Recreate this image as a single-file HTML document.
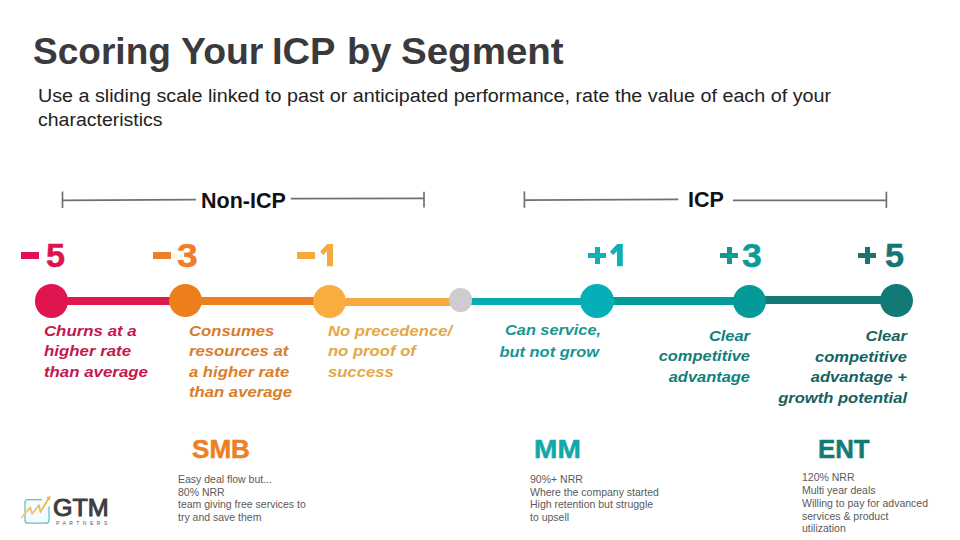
<!DOCTYPE html>
<html><head><meta charset="utf-8">
<style>
html,body{margin:0;padding:0;background:#fff;}
body{width:960px;height:540px;position:relative;overflow:hidden;font-family:"Liberation Sans",sans-serif;}
.a{position:absolute;white-space:nowrap;line-height:1;}
.tt{top:32.7px;font-size:37.5px;font-weight:bold;color:#3a3a3d;}
.sub{left:38px;font-size:18.8px;color:#222;transform-origin:1px 0;}
.brk{font-size:21.5px;font-weight:bold;color:#111;}
.num{font-size:33.2px;font-weight:bold;-webkit-text-stroke:0.5px currentColor;transform-origin:0 0;}
.bar{position:absolute;}
.dot{position:absolute;border-radius:50%;}
.ln{position:absolute;height:7.5px;}
.desc{font-size:15.3px;font-weight:bold;font-style:italic;line-height:20.6px;}
.seg{font-size:25.3px;font-weight:bold;-webkit-text-stroke:0.5px currentColor;transform-origin:0 0;}
.small{font-size:10.1px;line-height:12.6px;color:#5a5a5a;transform:scaleX(1.04);transform-origin:0 0;}
</style></head>
<body>
<div id="t1" class="a tt" style="left:32.93px;transform:scaleX(0.9879);transform-origin:0 0">Scoring</div>
<div id="t2" class="a tt" style="left:180.97px;transform:scaleX(0.9971);transform-origin:0 0">Your</div>
<div id="t3" class="a tt" style="left:272.25px;transform:scaleX(1.0154);transform-origin:0 0">ICP</div>
<div id="t4" class="a tt" style="left:346.89px;transform:scaleX(1.0174);transform-origin:0 0">by</div>
<div id="t5" class="a tt" style="left:400.83px;transform:scaleX(1.0272);transform-origin:0 0">Segment</div>
<div id="sub1" class="a sub" style="top:86.9px;transform:scaleX(1.0507)">Use a sliding scale linked to past or anticipated performance, rate the value of each of your</div>
<div id="sub2" class="a sub" style="top:111.1px;transform:scaleX(1.038)">characteristics</div>

<svg class="a" style="left:0;top:0" width="960" height="540">
 <g stroke="#707070" stroke-width="1.7" fill="none">
  <line x1="62.5" y1="200.3" x2="196" y2="199.6"/>
  <line x1="290.8" y1="198.6" x2="424" y2="198.3"/>
  <line x1="62.5" y1="191.5" x2="62.5" y2="208"/>
  <line x1="424" y1="191.7" x2="424" y2="207.5"/>
  <line x1="524.4" y1="200.1" x2="678.3" y2="199.4"/>
  <line x1="733" y1="200.4" x2="886.4" y2="200.4"/>
  <line x1="524.4" y1="191.4" x2="524.4" y2="207.8"/>
  <line x1="886.4" y1="191.7" x2="886.4" y2="208"/>
 </g>
</svg>
<div id="nonicp" class="a brk" style="left:201px;top:191px">Non-ICP</div>
<div id="icp" class="a brk" style="left:688px;top:189.7px">ICP</div>

<!-- numbers -->
<div class="bar" style="left:21.1px;top:252.2px;width:18.1px;height:6.5px;background:#df1250"></div>
<div id="n5m" class="a num" style="left:46.2px;top:239.3px;transform:scaleX(1.03);color:#df1250">5</div>
<div class="bar" style="left:153px;top:252.2px;width:18px;height:6.5px;background:#ee7f2a"></div>
<div id="n3m" class="a num" style="left:177.2px;top:239.3px;transform:scaleX(1.12);color:#ee7f2a">3</div>
<div class="bar" style="left:297px;top:252.2px;width:18.2px;height:6.5px;background:#f6aa3c"></div>
<svg id="n1m" class="a" style="left:0;top:0" width="960" height="300"><polygon points="333,243.9 333,266.3 327,266.3 327,251.2 323.3,254.9 320.2,251.6 327.2,243.9" fill="#f6aa3c"/></svg>

<div class="bar" style="left:588.3px;top:252.6px;width:17.6px;height:5.3px;background:#10afb8"></div>
<div class="bar" style="left:594.5px;top:246.8px;width:5.3px;height:16.9px;background:#10afb8"></div>
<svg id="n1p" class="a" style="left:0;top:0" width="960" height="300"><polygon points="622.8,243.9 622.8,266.3 617,266.3 617,251.2 613.1,254.9 609.9,251.7 617.2,243.9" fill="#10afb8"/></svg>
<div class="bar" style="left:720.2px;top:252.6px;width:18px;height:5.4px;background:#0c9a98"></div>
<div class="bar" style="left:726.7px;top:246.6px;width:5.4px;height:17.4px;background:#0c9a98"></div>
<div id="n3p" class="a num" style="left:741.7px;top:239.3px;transform:scaleX(1.07);color:#0c9a98">3</div>
<div class="bar" style="left:858.4px;top:252.8px;width:18px;height:5.3px;background:#157674"></div>
<div class="bar" style="left:864.6px;top:246.6px;width:5.4px;height:17.4px;background:#157674"></div>
<div id="n5p" class="a num" style="left:884.6px;top:239.3px;transform:scaleX(1.03);color:#157674">5</div>

<!-- lines -->
<div class="ln" style="left:51px;width:134px;top:297.2px;background:#e0194d"></div>
<div class="ln" style="left:185px;width:144px;top:297px;height:7.8px;background:#ec801f"></div>
<div class="ln" style="left:329px;width:131px;top:298px;background:#f6aa3f"></div>
<div class="ln" style="left:460px;width:137px;top:297.6px;height:7.8px;background:#06abb2"></div>
<div class="ln" style="left:597px;width:153px;top:297.1px;background:#049b9b"></div>
<div class="ln" style="left:750px;width:146px;top:296px;background:#127b78"></div>
<!-- dots -->
<div class="dot" style="left:34.65px;top:284.05px;width:33.5px;height:33.5px;background:#e0154f"></div>
<div class="dot" style="left:168.8px;top:283.8px;width:33px;height:33px;background:#ec7e1c"></div>
<div class="dot" style="left:312.7px;top:284.6px;width:33px;height:33px;background:#f9ad41"></div>
<div class="dot" style="left:448.75px;top:288.25px;width:23.5px;height:23.5px;background:#cecccf"></div>
<div class="dot" style="left:580px;top:284.4px;width:34px;height:34px;background:#04afb7"></div>
<div class="dot" style="left:733.2px;top:284.9px;width:33px;height:33px;background:#039a98"></div>
<div class="dot" style="left:879.9px;top:283.5px;width:33px;height:33px;background:#117a77"></div>

<!-- descriptions -->
<div id="d1" class="a desc" style="left:44px;top:320.5px;transform:scaleX(1.103);transform-origin:1px 0;color:#c4184e">Churns at a<br>higher rate<br>than average</div>
<div id="d2" class="a desc" style="left:189px;top:320.7px;transform:scaleX(1.093);transform-origin:1px 0;color:#d97d2c">Consumes<br>resources at<br>a higher rate<br>than average</div>
<div id="d3" class="a desc" style="left:328px;top:320.5px;transform:scaleX(1.090);transform-origin:1px 0;color:#e3a845">No precedence/<br>no proof of<br>success</div>
<div id="d4" class="a desc" style="left:450px;top:319.9px;width:151px;transform:scaleX(1.064);transform-origin:100% 0;text-align:right;color:#16968f">Can service,</div>
<div id="d4b" class="a desc" style="left:448px;top:341.5px;width:151px;transform:scaleX(1.075);transform-origin:100% 0;text-align:right;color:#16968f">but not grow</div>
<div id="d5" class="a desc" style="left:600px;top:325.8px;width:150px;transform:scaleX(1.074);transform-origin:100% 0;text-align:right;color:#12807a">Clear<br>competitive<br>advantage</div>
<div id="d6" class="a desc" style="left:700px;top:326.0px;width:207px;transform:scaleX(1.083);transform-origin:100% 0;text-align:right;color:#156260">Clear<br>competitive<br>advantage +<br>growth potential</div>

<!-- segments -->
<div id="smb" class="a seg" style="left:192px;top:436.6px;transform:scaleX(1.03);color:#eb8024">SMB</div>
<div id="mm" class="a seg" style="left:533.6px;top:436.9px;transform:scaleX(1.11);color:#12a8a9">MM</div>
<div id="ent" class="a seg" style="left:817.5px;top:436.6px;transform:scaleX(1.02);color:#147a76">ENT</div>

<div id="s1" class="a small" style="left:178px;top:474px">Easy deal flow but...<br>80% NRR<br>team giving free services to<br>try and save them</div>
<div id="s2" class="a small" style="left:529.6px;top:474px">90%+ NRR<br>Where the company started<br>High retention but struggle<br>to upsell</div>
<div id="s3" class="a small" style="left:801.8px;top:472.3px;line-height:12.75px">120% NRR<br>Multi year deals<br>Willing to pay for advanced<br>services &amp; product<br>utilization</div>

<!-- logo -->
<svg class="a" style="left:0;top:480px" width="70" height="60" viewBox="0 480 70 60">
 <defs><linearGradient id="zg" x1="0" y1="1" x2="1" y2="0"><stop offset="0" stop-color="#f8cf80"/><stop offset="1" stop-color="#f3ab45"/></linearGradient></defs>
 <path d="M42 499.6 H28 a3 3 0 0 0 -3 3 V520.2 a3 3 0 0 0 3 3 H46 a3 3 0 0 0 3 -3 V506.5" stroke="#66bccb" stroke-width="1.25" fill="#f3fcfe"/>
 <path d="M21.2 518.2 L30.3 507.3 L32.1 513.8 L39.1 505.1 L40.4 512.3 L48.6 498.4" stroke="url(#zg)" stroke-width="1.8" fill="none" stroke-linejoin="round"/>
 <path d="M50.8 496 L46.4 497.3 L49.6 500.4 Z" fill="#f3ac48"/>
</svg>
<div id="gtm" class="a" style="left:52.91px;top:495.7px;font-size:24.2px;font-weight:normal;-webkit-text-stroke:1px #3d3d40;color:#3d3d40;transform:scaleX(1.0380);transform-origin:0 0">GTM</div>
<div id="partners" class="a" style="left:56px;top:520.5px;font-size:5px;letter-spacing:3.5px;color:#555">PARTNERS</div>
</body></html>
